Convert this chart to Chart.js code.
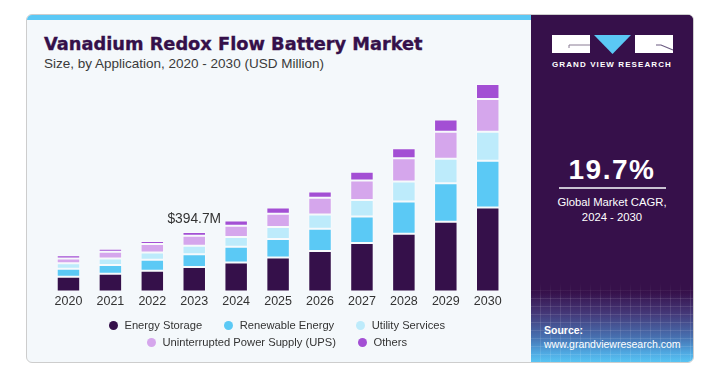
<!DOCTYPE html>
<html>
<head>
<meta charset="utf-8">
<script src="https://cdn.jsdelivr.net/npm/chart.js@4"></script>
<style>
  html, body { margin: 0; padding: 0; background: #fff; }
  body { width: 717px; height: 370px; position: relative; overflow: hidden; font-family: "Liberation Sans", Arial, sans-serif; }
  .card { position: absolute; left: 26px; top: 14px; width: 666px; height: 347px; border: 1px solid #cdcdcd; border-radius: 6px; background: #f4f8fb; overflow: hidden; }
  .strip { position: absolute; left: 0; top: 0; width: 505px; height: 5px; background: #5bc8f5; }
  .title { position: absolute; left: 17px; top: 18px; font-family: "DejaVu Sans", sans-serif; font-weight: bold; font-size: 17.8px; color: #35104a; white-space: nowrap; -webkit-text-stroke: 0.35px #35104a; }
  .sub { position: absolute; left: 17px; top: 41px; font-size: 13.5px; color: #3a3a3a; white-space: nowrap; }
  .panel { position: absolute; left: 504px; top: 0; width: 162px; height: 347px;
    background:
      repeating-linear-gradient(90deg, rgba(255,255,255,0) 0 9px, rgba(255,255,255,0.10) 9px 10px),
      repeating-linear-gradient(0deg, rgba(255,255,255,0) 0 7px, rgba(255,255,255,0.10) 7px 8px),
      linear-gradient(180deg, #36104a 0px, #36104a 276px, #443777 298px, #4770b0 322px, #4fa9e2 338px, #58c4f3 347px);
  }
  .panel .cover { position: absolute; left: 0; top: 0; width: 100%; height: 284px; background: linear-gradient(180deg, #36104a 0, #36104a 268px, rgba(54,16,74,0) 284px); }
  .gvr { position: absolute; left: 0; width: 100%; top: 45px; text-align: center; color: #fff; font-weight: bold; font-size: 8px; letter-spacing: 1.1px; }
  .cagr { position: absolute; left: 0; width: 100%; top: 139px; text-align: center; color: #fff; font-weight: bold; font-size: 28px; letter-spacing: 1.5px; }
  .rule { position: absolute; left: 28px; width: 107px; top: 172px; height: 1.5px; background: #c9c2d2; }
  .cagrtxt { position: absolute; left: 0; width: 100%; top: 180px; text-align: center; color: #fff; font-size: 11.3px; line-height: 15px; }
  .src { position: absolute; left: 13px; top: 308px; color: #fff; font-size: 10.5px; line-height: 14px; }
  .chartbox { position: absolute; left: 40px; top: 62.5px; width: 480px; height: 255px; }
  .legend { position: absolute; left: 40px; width: 474px; top: 316.5px; font-size: 11.2px; color: #333; }
  .lrow { display: flex; justify-content: center; height: 17px; align-items: center; }
  .litem { display: flex; align-items: center; margin: 0 11px; white-space: nowrap; }
  .dot { width: 9px; height: 9px; border-radius: 50%; margin-right: 6.5px; }
</style>
</head>
<body>
<div class="card">
  <div class="strip"></div>
  <div class="title">Vanadium Redox Flow Battery Market</div>
  <div class="sub">Size, by Application, 2020 - 2030 (USD Million)</div>
  <div class="panel">
    <div class="cover"></div>
    <svg style="position:absolute;left:0;top:0" width="162" height="60">
      <rect x="21" y="20" width="38" height="18" fill="#fff"/>
      <polyline points="38,33 38,30 59,30" fill="none" stroke="#8a7d94" stroke-width="1"/>
      <polygon points="63,20 100,20 81.5,39" fill="#5bc8f5"/>
      <rect x="104" y="20" width="38" height="18" fill="#fff"/>
      <polyline points="125,30 130,30 142,35" fill="none" stroke="#6a5a80" stroke-width="1.2"/>
    </svg>
    <div class="gvr">GRAND VIEW RESEARCH</div>
    <div class="cagr">19.7%</div>
    <div class="rule"></div>
    <div class="cagrtxt">Global Market CAGR,<br>2024 - 2030</div>
    <div class="src"><b>Source:</b><br>www.grandviewresearch.com</div>
  </div>
</div>
<div class="chartbox"><canvas id="c"></canvas></div>
<div class="legend" id="legend"></div>
<script>
const years = ["2020", "2021", "2022", "2023", "2024", "2025", "2026", "2027", "2028", "2029", "2030"];
const seriesNames = ["Energy Storage", "Renewable Energy", "Utility Services", "Uninterrupted Power Supply (UPS)", "Others"];
const seriesColors = ["#35104a", "#5bc9f5", "#bdebfb", "#d5a6ec", "#a34fd4"];

// USD Million
const energyStorage = [97, 117, 137, 163, 192, 225, 268, 321, 383, 463, 557];
const renewableEnergy = [53, 59, 73, 84, 104, 123, 148, 176, 214, 255, 309];
const utilityServices = [38, 42, 48, 57, 66, 79, 95, 110, 132, 161, 192];
const ups = [30, 46, 56, 66, 73, 89, 110, 128, 154, 180, 218];
const others = [22, 20, 20, 24.7, 35, 40, 42, 58, 66, 81, 99];

const calloutYear = "2023";
const calloutText = "$394.7M";

const allSeries = [energyStorage, renewableEnergy, utilityServices, ups, others];

const datasets = [];
for (let i = 0; i < allSeries.length; i++) {
  datasets.push({
    label: seriesNames[i],
    data: allSeries[i],
    backgroundColor: seriesColors[i],
    borderColor: "rgba(255,255,255,0.35)",
    borderWidth: 1,
    borderSkipped: false,
  });
}

// html legend, two rows like the original
const rows = [[0, 1, 2], [3, 4]];
const legendEl = document.getElementById("legend");
rows.forEach(function (r) {
  const row = document.createElement("div");
  row.className = "lrow";
  r.forEach(function (i) {
    const it = document.createElement("div");
    it.className = "litem";
    it.innerHTML = '<span class="dot" style="background:' + seriesColors[i] + '"></span>' + seriesNames[i];
    row.appendChild(it);
  });
  legendEl.appendChild(row);
});

const callout = {
  id: "callout",
  afterDatasetsDraw(chart) {
    const idx = years.indexOf(calloutYear);
    const meta = chart.getDatasetMeta(datasets.length - 1);
    const bar = meta.data[idx];
    const ctx = chart.ctx;
    ctx.save();
    ctx.font = '13.8px "Liberation Sans", Arial, sans-serif';
    ctx.fillStyle = "#333";
    ctx.textAlign = "center";
    ctx.textBaseline = "alphabetic";
    ctx.fillText(calloutText, bar.x, bar.y - 9);
    ctx.restore();
  },
};

new Chart(document.getElementById("c"), {
  type: "bar",
  data: { labels: years, datasets: datasets },
  options: {
    responsive: true,
    maintainAspectRatio: false,
    devicePixelRatio: 1,
    animation: false,
    layout: { padding: { left: 7.5, right: 11.3, top: 9.7, bottom: 5.5 } },
    plugins: { legend: { display: false }, tooltip: { enabled: false } },
    datasets: { bar: { categoryPercentage: 1, barPercentage: 0.56 } },
    scales: {
      x: {
        stacked: true,
        grid: { display: false, drawTicks: false },
        border: { display: false },
        ticks: { padding: 3, color: "#333", font: { size: 12.5, family: '"Liberation Sans", Arial, sans-serif' } },
      },
      y: { stacked: true, display: false, min: 0, max: 1450 },
    },
  },
  plugins: [callout],
});
</script>
</body>
</html>
